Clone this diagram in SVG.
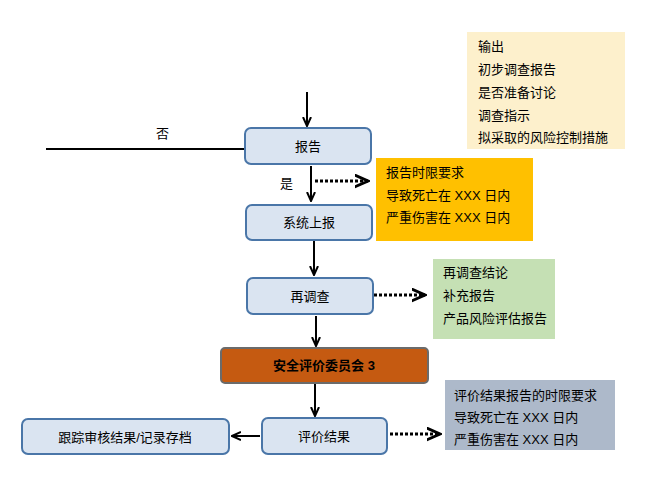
<svg xmlns="http://www.w3.org/2000/svg" width="652" height="500" viewBox="0 0 652 500">
<style>
text{font-family:"Liberation Sans","Noto Sans CJK SC",sans-serif;font-size:13px;fill:#000}
.n{fill:#dae4f1;stroke:#4a76a8;stroke-width:2}
.c{text-anchor:middle}
.l{stroke:#000;stroke-width:2;fill:none}
.d{stroke:#000;stroke-width:3;stroke-dasharray:3 2;fill:none}
</style>
<defs>
<marker id="a" viewBox="0 0 10 10" refX="9" refY="5" markerWidth="5" markerHeight="5" orient="auto"><path d="M0,1 L9,5 L0,9" fill="none" stroke="#000" stroke-width="2"/></marker>
</defs>
<rect width="652" height="500" fill="#fff"/>
<g id="connectors">
<line class="l" x1="307" y1="92" x2="307" y2="126" marker-end="url(#a)"/>
<line class="l" x1="46" y1="149" x2="245" y2="149"/>
<line class="l" x1="311" y1="166" x2="311" y2="201" marker-end="url(#a)"/>
<line class="d" x1="315" y1="181" x2="368" y2="181" marker-end="url(#a)"/>
<line class="l" x1="314" y1="241" x2="314" y2="275" marker-end="url(#a)"/>
<line class="d" x1="374" y1="295" x2="425" y2="295" marker-end="url(#a)"/>
<line class="l" x1="316" y1="316" x2="316" y2="346" marker-end="url(#a)"/>
<line class="l" x1="315" y1="384" x2="315" y2="416" marker-end="url(#a)"/>
<line class="d" x1="390" y1="434" x2="440" y2="434" marker-end="url(#a)"/>
<line class="l" x1="260" y1="436" x2="232" y2="436" marker-end="url(#a)"/>
</g>
<g id="n-out"><rect x="467" y="32" width="158" height="117" fill="#fdf0cc"/>
<text x="478" y="51">输出</text><text x="478" y="74">初步调查报告</text><text x="478" y="97">是否准备讨论</text><text x="478" y="120">调查指示</text><text x="478" y="142">拟采取的风险控制措施</text></g>
<g id="n-report"><rect class="n" x="245" y="128" width="126" height="36" rx="6"/><text class="c" x="308" y="151">报告</text></g>
<text x="156" y="138" font-size="15">否</text>
<text x="280" y="188" font-size="15">是</text>
<g id="n-time"><rect x="376" y="158" width="157" height="83" fill="#ffc000"/>
<text x="386" y="177">报告时限要求</text><text x="386" y="200">导致死亡在 XXX 日内</text><text x="386" y="222">严重伤害在 XXX 日内</text></g>
<g id="n-sys"><rect class="n" x="246" y="205" width="126" height="35" rx="6"/><text class="c" x="309" y="227">系统上报</text></g>
<g id="n-re"><rect class="n" x="247" y="278" width="126" height="36" rx="6"/><text class="c" x="310" y="301">再调查</text></g>
<g id="n-green"><rect x="433" y="259" width="122" height="80" fill="#c5e0b4"/>
<text x="443" y="277">再调查结论</text><text x="443" y="300">补充报告</text><text x="443" y="323">产品风险评估报告</text></g>
<g id="n-com"><rect x="221" y="348" width="207" height="35" rx="4" fill="#c55a11" stroke="#6b6b6b" stroke-width="2"/><text class="c" x="324" y="370" font-weight="bold">安全评价委员会 3</text></g>
<g id="n-res"><rect class="n" x="262" y="418" width="125" height="36" rx="6"/><text class="c" x="324" y="441">评价结果</text></g>
<g id="n-track"><rect class="n" x="22" y="419" width="207" height="35" rx="6"/><text class="c" x="125" y="442">跟踪审核结果/记录存档</text></g>
<g id="n-gray"><rect x="445" y="380" width="170" height="70" fill="#adb9ca"/>
<text x="454" y="400">评价结果报告的时限要求</text><text x="454" y="422">导致死亡在 XXX 日内</text><text x="454" y="444">严重伤害在 XXX 日内</text></g>
</svg>
